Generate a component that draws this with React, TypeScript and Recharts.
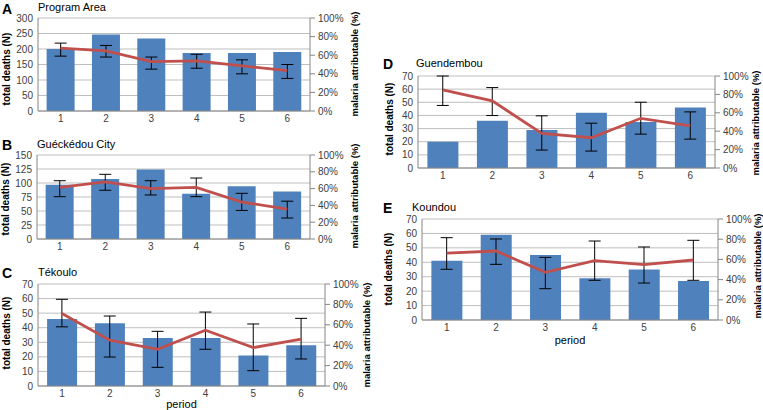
import React from 'react';
import { ComposedChart, Bar, Line, XAxis, YAxis, CartesianGrid, ErrorBar, Label } from 'recharts';

const periods = ['1', '2', '3', '4', '5', '6'];

const deathsA = [200, 247, 234, 187, 187, 190];
const pctA = [67.5, 64.7, 53, 54, 48.5, 43.5];
const lowA = [59, 58, 45, 46, 40, 35];
const highA = [73, 70.5, 58, 61, 55, 50];

const deathsB = [97, 107, 124, 81, 94, 85];
const pctB = [61.5, 68, 60, 61.5, 44, 35.7];
const lowB = [50.4, 58, 52.4, 50.4, 34, 25];
const highB = [69.4, 77, 69.4, 72.6, 54.4, 45];

const deathsC = [46, 43, 33, 33, 21, 28];
const pctC = [71, 45, 36, 54.6, 37.6, 46];
const lowC = [58, 28.4, 18.3, 36, 15, 26.5];
const highC = [85, 68.6, 53.6, 72.5, 60.8, 66.3];

const deathsD = [20, 36, 29, 42, 35, 46];
const pctD = [84.8, 73, 37.5, 32.9, 54, 45.8];
const lowD = [68, 57, 19.5, 18.4, 36.8, 31.4];
const highD = [100, 87.4, 56.7, 48.7, 71.5, 61];

const deathsE = [41, 59, 45, 29, 35, 27];
const pctE = [66.3, 68.3, 47.2, 58.7, 54.8, 59.4];
const lowE = [50.2, 55.1, 31, 39.3, 36.6, 39.3];
const highE = [81.5, 80.2, 62, 78.2, 72.3, 78.9];

const ticksA = [0, 50, 100, 150, 200, 250, 300];
const ticksB = [0, 25, 50, 75, 100, 125, 150];
const ticks70 = [0, 10, 20, 30, 40, 50, 60, 70];
const pctTicks = [0, 20, 40, 60, 80, 100];

const FONT = '"Liberation Sans", Arial, sans-serif';
const BAR = '#4F81BD';
const LINE = '#C0504D';
const AXIS = '#868686';
const GRID = '#BFBFBF';
const TICK = '#404040';

function build(deaths: number[], pct: number[], low: number[], high: number[]) {
  return periods.map((p, i) => ({
    period: p,
    deaths: deaths[i],
    pct: pct[i],
    err: [pct[i] - low[i], high[i] - pct[i]],
  }));
}

type PanelProps = {
  letter: string;
  title: string;
  data: any[];
  leftTicks: number[];
  left: number;
  top: number;
  width: number;
  height: number;
  margin: { top: number; right: number; bottom: number; left: number };
  leftW: number;
  rightW: number;
  xH: number;
  period?: boolean;
  periodOffset?: number;
  letterPos: [number, number];
  titlePos: [number, number];
  leftTitle: [number, number];
  rightTitle: [number, number];
};

function RotLabel({ x, y, text, size }: { x: number; y: number; text: string; size: number }) {
  return (
    <div
      style={{
        position: 'absolute',
        left: x,
        top: y,
        transform: 'translate(-50%, -50%) rotate(-90deg)',
        whiteSpace: 'nowrap',
        fontWeight: 'bold',
        fontSize: size,
        fontFamily: FONT,
        color: '#000',
        lineHeight: 1,
      }}
    >
      {text}
    </div>
  );
}

function Panel(p: PanelProps) {
  const max = p.leftTicks[p.leftTicks.length - 1];
  return (
    <>
      <div style={{ position: 'absolute', left: p.letterPos[0], top: p.letterPos[1], fontFamily: FONT, fontWeight: 'bold', fontSize: 14, lineHeight: 1, color: '#000' }}>
        {p.letter}
      </div>
      <div style={{ position: 'absolute', left: p.titlePos[0], top: p.titlePos[1], fontFamily: FONT, fontSize: 11, lineHeight: 1, color: '#000' }}>
        {p.title}
      </div>
      <div style={{ position: 'absolute', left: p.left, top: p.top }}>
        <ComposedChart width={p.width} height={p.height} data={p.data} margin={p.margin} barCategoryGap="19%">
          <CartesianGrid yAxisId="left" vertical={false} stroke={GRID} strokeWidth={1} />
          <XAxis
            dataKey="period"
            height={p.xH}
            interval={0}
            tickLine={false}
            tickSize={2}
            tickMargin={2}
            axisLine={{ stroke: AXIS }}
            tick={{ fontSize: 10, fill: TICK, fontFamily: FONT }}
          >
            {p.period ? (
              <Label value="period" position="insideBottom" offset={p.periodOffset ?? 2} style={{ fontSize: 11, fill: '#000', fontFamily: FONT }} />
            ) : null}
          </XAxis>
          <YAxis
            yAxisId="left"
            width={p.leftW}
            domain={[0, max]}
            ticks={p.leftTicks}
            interval={0}
            tickLine={false}
            tickSize={3}
            tickMargin={2}
            axisLine={{ stroke: AXIS }}
            tick={{ fontSize: 10, fill: TICK, fontFamily: FONT }}
          />
          <YAxis
            yAxisId="right"
            orientation="right"
            width={p.rightW}
            domain={[0, 100]}
            ticks={pctTicks}
            interval={0}
            tickFormatter={(v: number) => `${v}%`}
            tickLine={{ stroke: AXIS }}
            tickSize={5}
            tickMargin={3}
            axisLine={{ stroke: AXIS }}
            tick={{ fontSize: 10, fill: TICK, fontFamily: FONT }}
          />
          <Bar yAxisId="left" dataKey="deaths" fill={BAR} isAnimationActive={false} />
          <Line
            yAxisId="right"
            type="linear"
            dataKey="pct"
            stroke={LINE}
            strokeWidth={2.8}
            dot={false}
            activeDot={false}
            isAnimationActive={false}
          >
            <ErrorBar dataKey="err" width={6} stroke="#000" strokeWidth={1} isAnimationActive={false} />
          </Line>
        </ComposedChart>
      </div>
      <RotLabel x={p.leftTitle[0]} y={p.leftTitle[1]} text="total deaths (N)" size={10} />
      <RotLabel x={p.rightTitle[0]} y={p.rightTitle[1]} text="malaria attributable (%)" size={9.5} />
    </>
  );
}

export default function App() {
  return (
    <div style={{ position: 'absolute', left: 0, top: 0, width: 763, height: 410, background: '#fff', overflow: 'hidden', fontFamily: FONT }}>
      <Panel
        letter="A"
        title="Program Area"
        data={build(deathsA, pctA, lowA, highA)}
        leftTicks={ticksA}
        left={0}
        top={0}
        width={380}
        height={130}
        margin={{ top: 18, right: 10, bottom: 3, left: 0 }}
        leftW={38}
        rightW={60}
        xH={16}
        letterPos={[2, 2]}
        titlePos={[38, 2]}
        leftTitle={[7, 69]}
        rightTitle={[355, 64]}
      />
      <Panel
        letter="B"
        title="Guéckédou City"
        data={build(deathsB, pctB, lowB, highB)}
        leftTicks={ticksB}
        left={0}
        top={135}
        width={380}
        height={130}
        margin={{ top: 20, right: 10, bottom: 10, left: 0 }}
        leftW={37}
        rightW={60}
        xH={16}
        letterPos={[2, 138]}
        titlePos={[37, 139]}
        leftTitle={[6, 199]}
        rightTitle={[355, 196]}
      />
      <Panel
        letter="C"
        title="Tékoulo"
        data={build(deathsC, pctC, lowC, highC)}
        leftTicks={ticks70}
        left={0}
        top={265}
        width={380}
        height={145}
        margin={{ top: 19, right: 10, bottom: 0, left: 0 }}
        leftW={38}
        rightW={45}
        xH={24}
        period
        periodOffset={2}
        letterPos={[2, 266]}
        titlePos={[38, 267]}
        leftTitle={[7, 333]}
        rightTitle={[367, 335]}
      />
      <Panel
        letter="D"
        title="Guendembou"
        data={build(deathsD, pctD, lowD, highD)}
        leftTicks={ticks70}
        left={380}
        top={40}
        width={383}
        height={150}
        margin={{ top: 36, right: 8, bottom: 6, left: 0 }}
        leftW={38}
        rightW={40}
        xH={16}
        letterPos={[383, 57]}
        titlePos={[416, 58]}
        leftTitle={[390, 119]}
        rightTitle={[756, 123]}
      />
      <Panel
        letter="E"
        title="Koundou"
        data={build(deathsE, pctE, lowE, highE)}
        leftTicks={ticks70}
        left={380}
        top={200}
        width={383}
        height={150}
        margin={{ top: 19, right: 8, bottom: 4, left: 0 }}
        leftW={42}
        rightW={37}
        xH={26}
        period
        periodOffset={2}
        letterPos={[383, 201]}
        titlePos={[412, 202]}
        leftTitle={[389, 269]}
        rightTitle={[758, 266]}
      />
    </div>
  );
}
